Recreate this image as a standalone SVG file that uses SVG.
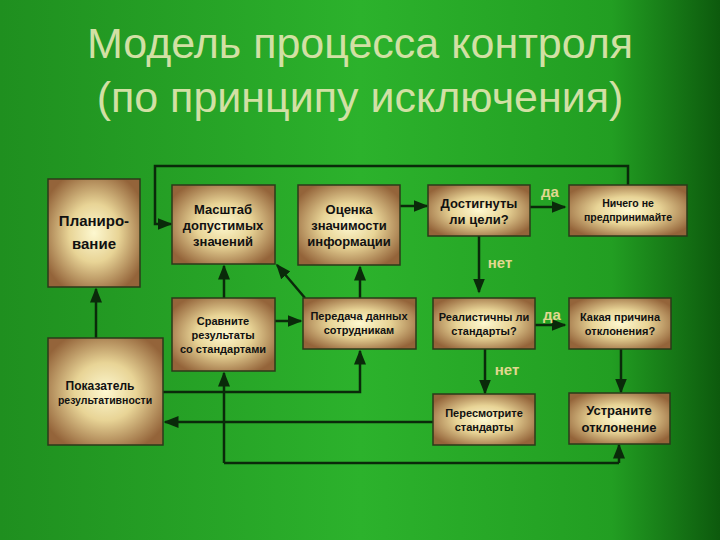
<svg xmlns="http://www.w3.org/2000/svg" width="720" height="540" viewBox="0 0 720 540">
<defs>
<linearGradient id="bg" x1="0" y1="0" x2="1" y2="0">
<stop offset="0" stop-color="#1f8f1f"/><stop offset="0.5" stop-color="#2cb22c"/><stop offset="0.85" stop-color="#229e22"/><stop offset="1" stop-color="#0d5a0d"/>
</linearGradient>
<radialGradient id="box" cx="0.5" cy="0.5" r="0.6">
<stop offset="0" stop-color="#fdf8d0"/><stop offset="0.45" stop-color="#e8d496"/><stop offset="1" stop-color="#94643a"/>
</radialGradient>
<marker id="ar" viewBox="0 0 10 10" refX="9" refY="5" markerWidth="6" markerHeight="6" orient="auto"><path d="M0,1 L10,5 L0,9 z" fill="#0a2a0a"/></marker>
<style>
.b{fill:url(#box);stroke:#2b3a1a;stroke-width:1.5}
.t{font-family:"Liberation Sans",Arial,sans-serif;font-weight:bold;fill:#111;text-anchor:middle}
.c{fill:none;stroke:#0a2a0a;stroke-width:2.5}
.ca{fill:none;stroke:#0a2a0a;stroke-width:2.5;marker-end:url(#ar)}
.l{font-family:"Liberation Sans",Arial,sans-serif;font-weight:bold;font-size:15px;fill:#e0d890}
</style>
</defs>
<rect width="720" height="540" fill="url(#bg)"/>
<text x="360" y="58" font-family="Liberation Sans,Arial,sans-serif" font-size="43" fill="#d2e0a4" text-anchor="middle">Модель процесса контроля</text>
<text x="360" y="112" font-family="Liberation Sans,Arial,sans-serif" font-size="43" fill="#d2e0a4" text-anchor="middle">(по принципу исключения)</text>
<g id="connectors">
<path class="ca" d="M628,185 V166 H155 V224 H171"/>
<path class="ca" d="M400,206 H427"/>
<path class="ca" d="M530,207 H565"/>
<path class="ca" d="M479,236 V292"/>
<path class="ca" d="M535,325 H565"/>
<path class="ca" d="M485,349 V393"/>
<path class="ca" d="M621,349 V392"/>
<path class="ca" d="M433,422 H165"/>
<path class="c" d="M224,463 H619"/>
<path class="ca" d="M619,463 V445"/>
<path class="ca" d="M224,463 V373"/>
<path class="ca" d="M163,392 H360 V351"/>
<path class="ca" d="M96,338 V289"/>
<path class="ca" d="M224,298 V266"/>
<path class="ca" d="M275,321 H301"/>
<path class="ca" d="M305,298 L277,265"/>
<path class="ca" d="M360,298 V267"/>
</g>
<g id="plan"><rect class="b" x="48" y="179" width="92" height="108"/><text class="t" font-size="15"><tspan x="94" y="226">Планиро-</tspan><tspan x="94" y="249">вание</tspan></text></g>
<g id="masshtab"><rect class="b" x="172" y="185" width="103" height="79"/><text class="t" font-size="13"><tspan x="223" y="214">Масштаб</tspan><tspan x="223" y="230">допустимых</tspan><tspan x="223" y="246">значений</tspan></text></g>
<g id="ocenka"><rect class="b" x="298" y="185" width="102" height="80"/><text class="t" font-size="13"><tspan x="349" y="214">Оценка</tspan><tspan x="349" y="230">значимости</tspan><tspan x="349" y="246">информации</tspan></text></g>
<g id="dostig"><rect class="b" x="428" y="185" width="102" height="51"/><text class="t" font-size="13"><tspan x="479" y="208">Достигнуты</tspan><tspan x="479" y="224">ли цели?</tspan></text></g>
<g id="nichego"><rect class="b" x="569" y="185" width="118" height="51"/><text class="t" font-size="10.5"><tspan x="628" y="207">Ничего не</tspan><tspan x="628" y="221">предпринимайте</tspan></text></g>
<g id="sravnite"><rect class="b" x="172" y="298" width="103" height="73"/><text class="t" font-size="11"><tspan x="223" y="325">Сравните</tspan><tspan x="223" y="339">результаты</tspan><tspan x="223" y="353">со стандартами</tspan></text></g>
<g id="peredacha"><rect class="b" x="303" y="298" width="113" height="51"/><text class="t" font-size="11"><tspan x="359" y="320">Передача данных</tspan><tspan x="359" y="334">сотрудникам</tspan></text></g>
<g id="realist"><rect class="b" x="433" y="298" width="102" height="51"/><text class="t" font-size="11"><tspan x="484" y="321">Реалистичны ли</tspan><tspan x="484" y="335">стандарты?</tspan></text></g>
<g id="prichina"><rect class="b" x="569" y="298" width="102" height="51"/><text class="t" font-size="11"><tspan x="620" y="321">Какая причина</tspan><tspan x="620" y="335">отклонения?</tspan></text></g>
<g id="pokaz"><rect class="b" x="48" y="338" width="115" height="107"/><text class="t" font-size="12"><tspan x="100" y="390">Показатель</tspan><tspan x="105" y="404" font-size="10.5">результативности</tspan></text></g>
<g id="peresmotr"><rect class="b" x="433" y="394" width="102" height="51"/><text class="t" font-size="11"><tspan x="484" y="417">Пересмотрите</tspan><tspan x="484" y="431">стандарты</tspan></text></g>
<g id="ustranite"><rect class="b" x="569" y="393" width="101" height="51"/><text class="t" font-size="13"><tspan x="619" y="415">Устраните</tspan><tspan x="619" y="432">отклонение</tspan></text></g>
<text class="l" x="550" y="197" text-anchor="middle">да</text>
<text class="l" x="500" y="268" text-anchor="middle">нет</text>
<text class="l" x="552" y="320" text-anchor="middle">да</text>
<text class="l" x="507" y="375" text-anchor="middle">нет</text>
</svg>
